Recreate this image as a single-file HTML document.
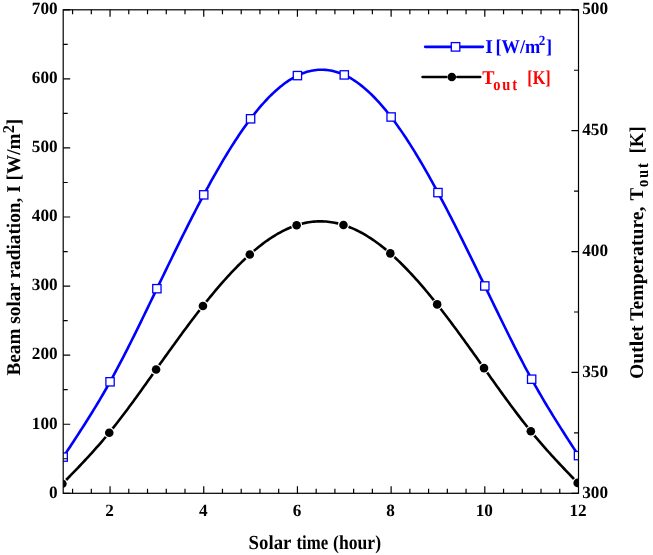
<!DOCTYPE html>
<html><head><meta charset="utf-8"><style>
html,body{margin:0;padding:0;background:#fff;}
svg{display:block;will-change:transform;}
text{text-rendering:geometricPrecision;}
</style></head><body>
<svg width="653" height="555" viewBox="0 0 653 555">
<rect width="653" height="555" fill="#fff"/>
<defs><clipPath id="pc"><rect x="63.2" y="9.8" width="515.3" height="483.5"/></clipPath></defs>
<g clip-path="url(#pc)">
<path d="M63.20,457.10 L64.92,454.49 L66.65,451.89 L68.37,449.28 L70.09,446.67 L71.82,444.05 L73.54,441.42 L75.26,438.79 L76.99,436.15 L78.71,433.49 L80.43,430.83 L82.16,428.15 L83.88,425.46 L85.60,422.75 L87.33,420.02 L89.05,417.27 L90.77,414.51 L92.50,411.72 L94.22,408.91 L95.94,406.07 L97.67,403.21 L99.39,400.33 L101.12,397.41 L102.84,394.47 L104.56,391.49 L106.29,388.48 L108.01,385.44 L109.73,382.36 L111.46,379.25 L113.18,376.10 L114.90,372.92 L116.63,369.71 L118.35,366.46 L120.07,363.19 L121.80,359.88 L123.52,356.55 L125.24,353.19 L126.97,349.81 L128.69,346.41 L130.41,342.99 L132.14,339.54 L133.86,336.08 L135.58,332.60 L137.31,329.10 L139.03,325.59 L140.75,322.07 L142.48,318.53 L144.20,314.99 L145.92,311.43 L147.65,307.87 L149.37,304.30 L151.09,300.73 L152.82,297.16 L154.54,293.58 L156.26,290.00 L157.99,286.42 L159.71,282.85 L161.43,279.28 L163.16,275.71 L164.88,272.15 L166.60,268.59 L168.33,265.04 L170.05,261.49 L171.77,257.96 L173.50,254.43 L175.22,250.91 L176.95,247.40 L178.67,243.91 L180.39,240.42 L182.12,236.95 L183.84,233.49 L185.56,230.05 L187.29,226.62 L189.01,223.21 L190.73,219.82 L192.46,216.44 L194.18,213.09 L195.90,209.75 L197.63,206.43 L199.35,203.14 L201.07,199.86 L202.80,196.61 L204.52,193.39 L206.24,190.18 L207.97,187.01 L209.69,183.86 L211.41,180.74 L213.14,177.64 L214.86,174.58 L216.58,171.54 L218.31,168.53 L220.03,165.56 L221.75,162.61 L223.48,159.70 L225.20,156.82 L226.92,153.98 L228.65,151.17 L230.37,148.40 L232.09,145.66 L233.82,142.96 L235.54,140.30 L237.26,137.67 L238.99,135.09 L240.71,132.55 L242.43,130.05 L244.16,127.59 L245.88,125.17 L247.61,122.80 L249.33,120.47 L251.05,118.18 L252.78,115.94 L254.50,113.75 L256.22,111.61 L257.95,109.51 L259.67,107.46 L261.39,105.46 L263.12,103.50 L264.84,101.60 L266.56,99.75 L268.29,97.94 L270.01,96.19 L271.73,94.49 L273.46,92.84 L275.18,91.25 L276.90,89.70 L278.63,88.22 L280.35,86.78 L282.07,85.40 L283.80,84.08 L285.52,82.81 L287.24,81.59 L288.97,80.44 L290.69,79.34 L292.41,78.30 L294.14,77.31 L295.86,76.39 L297.58,75.52 L299.31,74.72 L301.03,73.97 L302.75,73.29 L304.48,72.66 L306.20,72.10 L307.92,71.59 L309.65,71.15 L311.37,70.76 L313.09,70.43 L314.82,70.17 L316.54,69.96 L318.26,69.82 L319.99,69.73 L321.71,69.70 L323.44,69.74 L325.16,69.83 L326.88,69.98 L328.61,70.20 L330.33,70.47 L332.05,70.81 L333.78,71.20 L335.50,71.66 L337.22,72.17 L338.95,72.74 L340.67,73.38 L342.39,74.07 L344.12,74.83 L345.84,75.64 L347.56,76.52 L349.29,77.45 L351.01,78.44 L352.73,79.50 L354.46,80.60 L356.18,81.77 L357.90,82.99 L359.63,84.27 L361.35,85.61 L363.07,87.00 L364.80,88.44 L366.52,89.94 L368.24,91.50 L369.97,93.11 L371.69,94.77 L373.41,96.48 L375.14,98.24 L376.86,100.06 L378.58,101.93 L380.31,103.85 L382.03,105.81 L383.75,107.83 L385.48,109.90 L387.20,112.01 L388.92,114.18 L390.65,116.39 L392.37,118.65 L394.09,120.95 L395.82,123.30 L397.54,125.70 L399.27,128.14 L400.99,130.62 L402.71,133.14 L404.44,135.71 L406.16,138.31 L407.88,140.96 L409.61,143.64 L411.33,146.37 L413.05,149.12 L414.78,151.92 L416.50,154.75 L418.22,157.61 L419.95,160.51 L421.67,163.44 L423.39,166.40 L425.12,169.40 L426.84,172.42 L428.56,175.47 L430.29,178.55 L432.01,181.66 L433.73,184.80 L435.46,187.96 L437.18,191.14 L438.90,194.35 L440.63,197.59 L442.35,200.84 L444.07,204.12 L445.80,207.42 L447.52,210.73 L449.24,214.07 L450.97,217.43 L452.69,220.80 L454.41,224.19 L456.14,227.60 L457.86,231.02 L459.58,234.46 L461.31,237.91 L463.03,241.37 L464.75,244.85 L466.48,248.33 L468.20,251.83 L469.93,255.34 L471.65,258.86 L473.37,262.39 L475.10,265.92 L476.82,269.46 L478.54,273.01 L480.27,276.56 L481.99,280.12 L483.71,283.68 L485.44,287.25 L487.16,290.81 L488.88,294.38 L490.61,297.95 L492.33,301.51 L494.05,305.07 L495.78,308.63 L497.50,312.18 L499.22,315.72 L500.95,319.26 L502.67,322.78 L504.39,326.29 L506.12,329.79 L507.84,333.27 L509.56,336.74 L511.29,340.19 L513.01,343.63 L514.73,347.04 L516.46,350.43 L518.18,353.80 L519.90,357.15 L521.63,360.46 L523.35,363.76 L525.07,367.02 L526.80,370.26 L528.52,373.46 L530.24,376.63 L531.97,379.77 L533.69,382.87 L535.41,385.94 L537.14,388.98 L538.86,391.99 L540.58,394.96 L542.31,397.91 L544.03,400.83 L545.76,403.73 L547.48,406.60 L549.20,409.45 L550.93,412.28 L552.65,415.09 L554.37,417.87 L556.10,420.64 L557.82,423.40 L559.54,426.13 L561.27,428.86 L562.99,431.57 L564.71,434.27 L566.44,436.96 L568.16,439.64 L569.88,442.31 L571.61,444.98 L573.33,447.64 L575.05,450.29 L576.78,452.95 L578.50,455.60" fill="none" stroke="#0000ff" stroke-width="2.6"/>
<path d="M62.40,483.80 L64.12,482.03 L65.85,480.26 L67.57,478.49 L69.29,476.72 L71.02,474.95 L72.74,473.16 L74.46,471.38 L76.19,469.58 L77.91,467.78 L79.63,465.98 L81.36,464.16 L83.08,462.33 L84.80,460.49 L86.53,458.64 L88.25,456.78 L89.97,454.90 L91.70,453.01 L93.42,451.10 L95.14,449.18 L96.87,447.24 L98.59,445.28 L100.32,443.30 L102.04,441.30 L103.76,439.28 L105.49,437.24 L107.21,435.17 L108.93,433.08 L110.66,430.97 L112.38,428.83 L114.10,426.67 L115.83,424.49 L117.55,422.28 L119.27,420.06 L121.00,417.82 L122.72,415.55 L124.44,413.27 L126.17,410.98 L127.89,408.67 L129.61,406.34 L131.34,404.00 L133.06,401.65 L134.78,399.29 L136.51,396.91 L138.23,394.53 L139.95,392.14 L141.68,389.74 L143.40,387.33 L145.12,384.92 L146.85,382.50 L148.57,380.08 L150.29,377.66 L152.02,375.23 L153.74,372.81 L155.46,370.38 L157.19,367.96 L158.91,365.53 L160.63,363.11 L162.36,360.69 L164.08,358.28 L165.80,355.87 L167.53,353.46 L169.25,351.06 L170.97,348.66 L172.70,346.27 L174.42,343.89 L176.15,341.51 L177.87,339.15 L179.59,336.79 L181.32,334.44 L183.04,332.10 L184.76,329.77 L186.49,327.45 L188.21,325.14 L189.93,322.84 L191.66,320.56 L193.38,318.29 L195.10,316.03 L196.83,313.78 L198.55,311.55 L200.27,309.34 L202.00,307.14 L203.72,304.96 L205.44,302.80 L207.17,300.65 L208.89,298.52 L210.61,296.41 L212.34,294.31 L214.06,292.24 L215.78,290.19 L217.51,288.15 L219.23,286.14 L220.95,284.15 L222.68,282.18 L224.40,280.24 L226.12,278.31 L227.85,276.41 L229.57,274.54 L231.29,272.69 L233.02,270.86 L234.74,269.06 L236.46,267.28 L238.19,265.53 L239.91,263.81 L241.63,262.12 L243.36,260.45 L245.08,258.82 L246.81,257.21 L248.53,255.63 L250.25,254.08 L251.98,252.56 L253.70,251.08 L255.42,249.62 L257.15,248.20 L258.87,246.80 L260.59,245.44 L262.32,244.12 L264.04,242.83 L265.76,241.57 L267.49,240.34 L269.21,239.15 L270.93,238.00 L272.66,236.88 L274.38,235.79 L276.10,234.74 L277.83,233.73 L279.55,232.76 L281.27,231.82 L283.00,230.92 L284.72,230.06 L286.44,229.24 L288.17,228.46 L289.89,227.72 L291.61,227.01 L293.34,226.35 L295.06,225.73 L296.78,225.15 L298.51,224.61 L300.23,224.11 L301.95,223.66 L303.68,223.24 L305.40,222.87 L307.12,222.53 L308.85,222.24 L310.57,221.99 L312.29,221.78 L314.02,221.61 L315.74,221.49 L317.46,221.40 L319.19,221.35 L320.91,221.35 L322.64,221.38 L324.36,221.46 L326.08,221.57 L327.81,221.73 L329.53,221.93 L331.25,222.17 L332.98,222.44 L334.70,222.76 L336.42,223.12 L338.15,223.52 L339.87,223.95 L341.59,224.43 L343.32,224.95 L345.04,225.51 L346.76,226.11 L348.49,226.74 L350.21,227.42 L351.93,228.13 L353.66,228.88 L355.38,229.67 L357.10,230.50 L358.83,231.37 L360.55,232.27 L362.27,233.21 L364.00,234.19 L365.72,235.20 L367.44,236.25 L369.17,237.33 L370.89,238.45 L372.61,239.60 L374.34,240.79 L376.06,242.01 L377.78,243.27 L379.51,244.56 L381.23,245.88 L382.95,247.24 L384.68,248.63 L386.40,250.05 L388.12,251.50 L389.85,252.99 L391.57,254.51 L393.29,256.06 L395.02,257.63 L396.74,259.24 L398.47,260.88 L400.19,262.55 L401.91,264.25 L403.64,265.97 L405.36,267.72 L407.08,269.50 L408.81,271.31 L410.53,273.14 L412.25,275.00 L413.98,276.88 L415.70,278.79 L417.42,280.72 L419.15,282.68 L420.87,284.65 L422.59,286.65 L424.32,288.68 L426.04,290.72 L427.76,292.79 L429.49,294.87 L431.21,296.98 L432.93,299.10 L434.66,301.25 L436.38,303.41 L438.10,305.59 L439.83,307.79 L441.55,310.01 L443.27,312.24 L445.00,314.48 L446.72,316.75 L448.44,319.02 L450.17,321.31 L451.89,323.61 L453.61,325.93 L455.34,328.26 L457.06,330.59 L458.78,332.94 L460.51,335.30 L462.23,337.67 L463.95,340.04 L465.68,342.43 L467.40,344.82 L469.13,347.21 L470.85,349.62 L472.57,352.03 L474.30,354.44 L476.02,356.86 L477.74,359.28 L479.47,361.70 L481.19,364.13 L482.91,366.55 L484.64,368.98 L486.36,371.41 L488.08,373.84 L489.81,376.26 L491.53,378.69 L493.25,381.11 L494.98,383.52 L496.70,385.93 L498.42,388.34 L500.15,390.74 L501.87,393.12 L503.59,395.51 L505.32,397.88 L507.04,400.24 L508.76,402.59 L510.49,404.92 L512.21,407.25 L513.93,409.56 L515.66,411.85 L517.38,414.13 L519.10,416.39 L520.83,418.64 L522.55,420.86 L524.27,423.07 L526.00,425.26 L527.72,427.42 L529.44,429.56 L531.17,431.68 L532.89,433.78 L534.61,435.85 L536.34,437.91 L538.06,439.94 L539.78,441.95 L541.51,443.94 L543.23,445.92 L544.96,447.87 L546.68,449.81 L548.40,451.74 L550.13,453.65 L551.85,455.54 L553.57,457.43 L555.30,459.30 L557.02,461.16 L558.74,463.00 L560.47,464.84 L562.19,466.67 L563.91,468.50 L565.64,470.31 L567.36,472.12 L569.08,473.93 L570.81,475.73 L572.53,477.52 L574.25,479.32 L575.98,481.11 L577.70,482.90" fill="none" stroke="#000" stroke-width="2.6"/>
<circle cx="62.40" cy="483.8" r="5.5" fill="#fff"/>
<circle cx="62.40" cy="483.8" r="4.3" fill="#000"/>
<circle cx="109.25" cy="432.7" r="5.5" fill="#fff"/>
<circle cx="109.25" cy="432.7" r="4.3" fill="#000"/>
<circle cx="156.09" cy="369.5" r="5.5" fill="#fff"/>
<circle cx="156.09" cy="369.5" r="4.3" fill="#000"/>
<circle cx="202.94" cy="305.95" r="5.5" fill="#fff"/>
<circle cx="202.94" cy="305.95" r="4.3" fill="#000"/>
<circle cx="249.78" cy="254.5" r="5.5" fill="#fff"/>
<circle cx="249.78" cy="254.5" r="4.3" fill="#000"/>
<circle cx="296.63" cy="225.2" r="5.5" fill="#fff"/>
<circle cx="296.63" cy="225.2" r="4.3" fill="#000"/>
<circle cx="343.47" cy="225.0" r="5.5" fill="#fff"/>
<circle cx="343.47" cy="225.0" r="4.3" fill="#000"/>
<circle cx="390.32" cy="253.4" r="5.5" fill="#fff"/>
<circle cx="390.32" cy="253.4" r="4.3" fill="#000"/>
<circle cx="437.16" cy="304.4" r="5.5" fill="#fff"/>
<circle cx="437.16" cy="304.4" r="4.3" fill="#000"/>
<circle cx="484.01" cy="368.1" r="5.5" fill="#fff"/>
<circle cx="484.01" cy="368.1" r="4.3" fill="#000"/>
<circle cx="530.85" cy="431.3" r="5.5" fill="#fff"/>
<circle cx="530.85" cy="431.3" r="4.3" fill="#000"/>
<circle cx="577.70" cy="482.9" r="5.5" fill="#fff"/>
<circle cx="577.70" cy="482.9" r="4.3" fill="#000"/>
<rect x="59.05" y="452.95" width="8.3" height="8.3" fill="#fff" stroke="#0000ff" stroke-width="1.3"/>
<rect x="105.90" y="377.65" width="8.3" height="8.3" fill="#fff" stroke="#0000ff" stroke-width="1.3"/>
<rect x="152.74" y="284.55" width="8.3" height="8.3" fill="#fff" stroke="#0000ff" stroke-width="1.3"/>
<rect x="199.59" y="190.70" width="8.3" height="8.3" fill="#fff" stroke="#0000ff" stroke-width="1.3"/>
<rect x="246.43" y="114.65" width="8.3" height="8.3" fill="#fff" stroke="#0000ff" stroke-width="1.3"/>
<rect x="293.28" y="71.45" width="8.3" height="8.3" fill="#fff" stroke="#0000ff" stroke-width="1.3"/>
<rect x="340.12" y="70.75" width="8.3" height="8.3" fill="#fff" stroke="#0000ff" stroke-width="1.3"/>
<rect x="386.97" y="112.85" width="8.3" height="8.3" fill="#fff" stroke="#0000ff" stroke-width="1.3"/>
<rect x="433.81" y="188.45" width="8.3" height="8.3" fill="#fff" stroke="#0000ff" stroke-width="1.3"/>
<rect x="480.66" y="281.80" width="8.3" height="8.3" fill="#fff" stroke="#0000ff" stroke-width="1.3"/>
<rect x="527.50" y="375.05" width="8.3" height="8.3" fill="#fff" stroke="#0000ff" stroke-width="1.3"/>
<rect x="574.35" y="451.45" width="8.3" height="8.3" fill="#fff" stroke="#0000ff" stroke-width="1.3"/>
</g>
<rect x="63.2" y="9.8" width="515.3" height="483.5" stroke="#000" stroke-width="1.2" fill="none"/>
<path d="M72.57,493.3 V488.8 M72.57,9.8 V14.3 M91.31,493.3 V488.8 M91.31,9.8 V14.3 M110.05,493.3 V486.3 M110.05,9.8 V16.8 M128.78,493.3 V488.8 M128.78,9.8 V14.3 M147.52,493.3 V488.8 M147.52,9.8 V14.3 M166.26,493.3 V488.8 M166.26,9.8 V14.3 M185.00,493.3 V488.8 M185.00,9.8 V14.3 M203.74,493.3 V486.3 M203.74,9.8 V16.8 M222.47,493.3 V488.8 M222.47,9.8 V14.3 M241.21,493.3 V488.8 M241.21,9.8 V14.3 M259.95,493.3 V488.8 M259.95,9.8 V14.3 M278.69,493.3 V488.8 M278.69,9.8 V14.3 M297.43,493.3 V486.3 M297.43,9.8 V16.8 M316.17,493.3 V488.8 M316.17,9.8 V14.3 M334.90,493.3 V488.8 M334.90,9.8 V14.3 M353.64,493.3 V488.8 M353.64,9.8 V14.3 M372.38,493.3 V488.8 M372.38,9.8 V14.3 M391.12,493.3 V486.3 M391.12,9.8 V16.8 M409.86,493.3 V488.8 M409.86,9.8 V14.3 M428.59,493.3 V488.8 M428.59,9.8 V14.3 M447.33,493.3 V488.8 M447.33,9.8 V14.3 M466.07,493.3 V488.8 M466.07,9.8 V14.3 M484.81,493.3 V486.3 M484.81,9.8 V16.8 M503.55,493.3 V488.8 M503.55,9.8 V14.3 M522.29,493.3 V488.8 M522.29,9.8 V14.3 M541.02,493.3 V488.8 M541.02,9.8 V14.3 M559.76,493.3 V488.8 M559.76,9.8 V14.3 M63.2,493.30 H70.2 M63.2,458.76 H67.7 M63.2,424.23 H70.2 M63.2,389.69 H67.7 M63.2,355.16 H70.2 M63.2,320.62 H67.7 M63.2,286.09 H70.2 M63.2,251.55 H67.7 M63.2,217.01 H70.2 M63.2,182.48 H67.7 M63.2,147.94 H70.2 M63.2,113.41 H67.7 M63.2,78.87 H70.2 M63.2,44.34 H67.7 M63.2,9.80 H70.2 M578.5,493.30 H571.5 M578.5,432.86 H574.0 M578.5,372.43 H571.5 M578.5,311.99 H574.0 M578.5,251.55 H571.5 M578.5,191.11 H574.0 M578.5,130.68 H571.5 M578.5,70.24 H574.0 M578.5,9.80 H571.5" stroke="#000" stroke-width="1.2" fill="none"/>
<text transform="translate(57.60,497.60) scale(1.0,1)" text-anchor="end" font-size="17.2" fill="#000" font-family="Liberation Serif" font-weight="bold" >0</text>
<text transform="translate(57.60,428.53) scale(1.0,1)" text-anchor="end" font-size="17.2" fill="#000" font-family="Liberation Serif" font-weight="bold" >100</text>
<text transform="translate(57.60,359.46) scale(1.0,1)" text-anchor="end" font-size="17.2" fill="#000" font-family="Liberation Serif" font-weight="bold" >200</text>
<text transform="translate(57.60,290.39) scale(1.0,1)" text-anchor="end" font-size="17.2" fill="#000" font-family="Liberation Serif" font-weight="bold" >300</text>
<text transform="translate(57.60,221.31) scale(1.0,1)" text-anchor="end" font-size="17.2" fill="#000" font-family="Liberation Serif" font-weight="bold" >400</text>
<text transform="translate(57.60,152.24) scale(1.0,1)" text-anchor="end" font-size="17.2" fill="#000" font-family="Liberation Serif" font-weight="bold" >500</text>
<text transform="translate(57.60,83.17) scale(1.0,1)" text-anchor="end" font-size="17.2" fill="#000" font-family="Liberation Serif" font-weight="bold" >600</text>
<text transform="translate(57.60,14.10) scale(1.0,1)" text-anchor="end" font-size="17.2" fill="#000" font-family="Liberation Serif" font-weight="bold" >700</text>
<text transform="translate(582.20,497.80) scale(1.0,1)" text-anchor="start" font-size="17.2" fill="#000" font-family="Liberation Serif" font-weight="bold" >300</text>
<text transform="translate(582.20,376.93) scale(1.0,1)" text-anchor="start" font-size="17.2" fill="#000" font-family="Liberation Serif" font-weight="bold" >350</text>
<text transform="translate(582.20,256.05) scale(1.0,1)" text-anchor="start" font-size="17.2" fill="#000" font-family="Liberation Serif" font-weight="bold" >400</text>
<text transform="translate(582.20,135.18) scale(1.0,1)" text-anchor="start" font-size="17.2" fill="#000" font-family="Liberation Serif" font-weight="bold" >450</text>
<text transform="translate(582.20,14.30) scale(1.0,1)" text-anchor="start" font-size="17.2" fill="#000" font-family="Liberation Serif" font-weight="bold" >500</text>
<text transform="translate(109.55,515.90) scale(1.0,1)" text-anchor="middle" font-size="17.2" fill="#000" font-family="Liberation Serif" font-weight="bold" >2</text>
<text transform="translate(203.24,515.90) scale(1.0,1)" text-anchor="middle" font-size="17.2" fill="#000" font-family="Liberation Serif" font-weight="bold" >4</text>
<text transform="translate(296.93,515.90) scale(1.0,1)" text-anchor="middle" font-size="17.2" fill="#000" font-family="Liberation Serif" font-weight="bold" >6</text>
<text transform="translate(390.62,515.90) scale(1.0,1)" text-anchor="middle" font-size="17.2" fill="#000" font-family="Liberation Serif" font-weight="bold" >8</text>
<text transform="translate(484.31,515.90) scale(1.0,1)" text-anchor="middle" font-size="17.2" fill="#000" font-family="Liberation Serif" font-weight="bold" >10</text>
<text transform="translate(578.00,515.90) scale(1.0,1)" text-anchor="middle" font-size="17.2" fill="#000" font-family="Liberation Serif" font-weight="bold" >12</text>
<text transform="translate(248.60,548.50) scale(0.94,1)" text-anchor="start" font-size="20" fill="#000" font-family="Liberation Serif" font-weight="bold" >Solar</text>
<text transform="translate(296.50,548.50) scale(0.84,1)" text-anchor="start" font-size="20" fill="#000" font-family="Liberation Serif" font-weight="bold" >time</text>
<text transform="translate(333.10,548.50) scale(0.88,1)" text-anchor="start" font-size="20" fill="#000" font-family="Liberation Serif" font-weight="bold" >(hour)</text>
<text transform="translate(19.7,375.6) rotate(-90) scale(0.9887,1)" x="0" y="0" font-size="19.5" font-family="Liberation Serif" font-weight="bold">Beam solar radiation, I [W/m<tspan font-size="16.5" dy="-5.6">2</tspan><tspan dy="5.6">]</tspan></text>
<g transform="translate(642.8,379.0) rotate(-90)">
<text transform="scale(1.01,1)" font-size="19.5" font-family="Liberation Serif" font-weight="bold">Outlet Temperature,</text>
<text transform="translate(178.4,0) scale(0.97,1)" font-size="19.5" font-family="Liberation Serif" font-weight="bold">T</text>
<text transform="translate(192.0,5.3) scale(0.84,1)" font-size="17.2" letter-spacing="2.2" font-family="Liberation Serif" font-weight="bold">out</text>
<text transform="translate(225.6,0) scale(0.96,1)" font-size="19.5" font-family="Liberation Serif" font-weight="bold">[K]</text>
</g>
<path d="M425.2,46.8 H482.8" stroke="#0000ff" stroke-width="2.7" stroke-linecap="round"/>
<rect x="451.3" y="42.6" width="8.5" height="8.5" fill="#fff" stroke="#0000ff" stroke-width="1.3"/>
<text x="485.3" y="53.3" font-size="19.5" fill="#0000ff" font-family="Liberation Serif" font-weight="bold">I</text>
<text transform="translate(495.50,53.30) scale(0.94,1)" text-anchor="start" font-size="19.5" fill="#0000ff" font-family="Liberation Serif" font-weight="bold" >[W/m<tspan font-size="14" dx="-1.6" dy="-8.1">2</tspan><tspan dx="0.8" dy="8.1">]</tspan></text>
<path d="M422.6,77 H446.2 M457.4,77 H480.2" stroke="#000" stroke-width="2.7" stroke-linecap="round"/>
<circle cx="451.8" cy="77" r="4.3" fill="#000"/>
<text transform="translate(482.20,83.90) scale(0.94,1)" text-anchor="start" font-size="19.5" fill="#ff0000" font-family="Liberation Serif" font-weight="bold" >T</text>
<text transform="translate(493.30,90.20) scale(0.84,1)" text-anchor="start" font-size="17.2" fill="#ff0000" font-family="Liberation Serif" font-weight="bold" letter-spacing="2.2">out</text>
<text transform="translate(527.30,84.40) scale(0.83,1)" text-anchor="start" font-size="19.5" fill="#ff0000" font-family="Liberation Serif" font-weight="bold" >[K]</text>
</svg>
</body></html>
